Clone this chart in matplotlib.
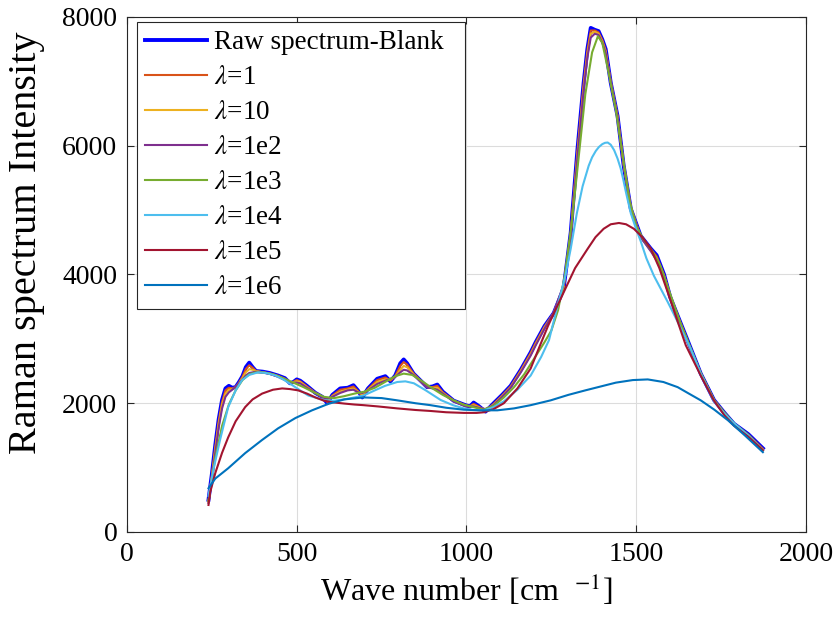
import numpy as np
import matplotlib
matplotlib.use("Agg")
import matplotlib.pyplot as plt  # noqa: E402

plt.rcParams["font.family"] = ["Liberation Serif", "DejaVu Serif"]
plt.rcParams["mathtext.fontset"] = "stix"

# raw spectrum and the three weakest smoothings share one grid
WN = [240, 250, 260, 270, 280, 290, 300, 310, 320, 330, 340, 350, 360, 370,
      380, 400, 420, 445, 465, 480, 490, 500, 510, 530, 555, 575, 590, 605,
      628, 650, 667, 680, 693, 710, 737, 761, 776, 790, 805, 815, 825, 844,
      865, 884, 900, 914, 930, 962, 997, 1010, 1021, 1035, 1056, 1080, 1105,
      1130, 1160, 1189, 1204, 1230, 1257, 1286, 1307, 1327, 1345, 1356, 1366,
      1378, 1389, 1400, 1410, 1425, 1445, 1463, 1484, 1513, 1543, 1560, 1582,
      1600, 1622, 1651, 1690, 1729, 1760, 1788, 1830, 1873]
RAW = [500, 900, 1350, 1750, 2050, 2230, 2270, 2240, 2250, 2330, 2420, 2560,
       2630, 2560, 2500, 2490, 2470, 2430, 2390, 2310, 2330, 2370, 2350, 2270,
       2160, 2100, 2000, 2130, 2230, 2240, 2280, 2200, 2090, 2230, 2380, 2420,
       2340, 2430, 2620, 2680, 2620, 2460, 2350, 2250, 2260, 2290, 2180, 2040,
       1970, 1950, 2010, 1960, 1870, 2000, 2130, 2270, 2520, 2790, 2950, 3200,
       3400, 3780, 4650, 5950, 6975, 7500, 7830, 7800, 7780, 7650, 7500, 6975,
       6460, 5690, 5020, 4600, 4400, 4300, 4000, 3650, 3360, 2980, 2460, 2050,
       1850, 1680, 1520, 1300]
L1 = [480, 880, 1320, 1720, 2020, 2200, 2240, 2230, 2250, 2320, 2410, 2530,
      2590, 2550, 2500, 2480, 2465, 2425, 2380, 2310, 2330, 2360, 2340, 2260,
      2160, 2100, 2020, 2120, 2210, 2230, 2260, 2190, 2110, 2220, 2360, 2400,
      2350, 2420, 2580, 2640, 2600, 2460, 2350, 2250, 2250, 2270, 2170, 2040,
      1970, 1950, 1990, 1950, 1880, 1990, 2120, 2260, 2510, 2780, 2940, 3190,
      3400, 3790, 4640, 5920, 6950, 7470, 7790, 7790, 7760, 7640, 7480, 6980,
      6460, 5700, 5030, 4590, 4390, 4280, 3990, 3660, 3360, 2970, 2460, 2050,
      1850, 1680, 1510, 1290]
L10 = [470, 860, 1280, 1680, 1980, 2150, 2210, 2220, 2250, 2310, 2390, 2480,
       2530, 2520, 2500, 2480, 2460, 2420, 2370, 2320, 2330, 2340, 2330, 2250,
       2160, 2100, 2050, 2110, 2180, 2210, 2230, 2180, 2140, 2210, 2330, 2370,
       2370, 2410, 2520, 2580, 2560, 2450, 2340, 2250, 2240, 2240, 2160, 2040,
       1960, 1955, 1970, 1940, 1900, 1980, 2110, 2250, 2500, 2760, 2920, 3180,
       3400, 3810, 4620, 5880, 6900, 7420, 7740, 7770, 7740, 7620, 7460, 6990,
       6450, 5710, 5040, 4580, 4380, 4250, 3980, 3670, 3350, 2960, 2460, 2050,
       1840, 1680, 1500, 1280]
L1E2 = [450, 820, 1230, 1620, 1920, 2100, 2170, 2210, 2260, 2310, 2370, 2430,
        2470, 2480, 2490, 2480, 2460, 2410, 2360, 2320, 2320, 2320, 2310, 2240,
        2160, 2090, 2070, 2100, 2160, 2200, 2210, 2170, 2160, 2200, 2300, 2350,
        2380, 2410, 2480, 2520, 2510, 2440, 2340, 2250, 2230, 2210, 2150, 2030,
        1950, 1950, 1950, 1930, 1910, 1970, 2100, 2240, 2480, 2740, 2900, 3160,
        3410, 3840, 4600, 5830, 6850, 7370, 7680, 7740, 7720, 7600, 7440, 7000,
        6440, 5720, 5050, 4580, 4360, 4220, 3970, 3680, 3340, 2950, 2460, 2050,
        1840, 1680, 1490, 1270]

WN_1E3 = [240, 260, 280, 300, 320, 340, 360, 380, 400, 430, 460, 490, 520,
          550, 580, 610, 640, 670, 700, 730, 760, 790, 815, 840, 870, 900,
          930, 960, 990, 1020, 1050, 1080, 1110, 1140, 1170, 1200, 1230, 1250,
          1270, 1290, 1310, 1330, 1350, 1370, 1387, 1400, 1420, 1440, 1460,
          1480, 1500, 1520, 1545, 1570, 1600, 1630, 1660, 1690, 1730, 1760,
          1790, 1830, 1873]
L1E3 = [480, 1150, 1650, 1980, 2200, 2360, 2450, 2480, 2480, 2450, 2390, 2320,
        2250, 2170, 2100, 2080, 2110, 2150, 2180, 2240, 2330, 2420, 2460, 2440,
        2340, 2230, 2130, 2050, 1980, 1940, 1900, 1960, 2090, 2250, 2450, 2700,
        2950, 3130, 3450, 4000, 4800, 5800, 6800, 7450, 7700, 7600, 7100, 6550,
        5850, 5150, 4750, 4560, 4380, 4150, 3700, 3250, 2860, 2470, 2040, 1850,
        1680, 1510, 1270]

WN_1E4 = [240, 255, 274, 298, 320, 339, 360, 386, 410, 437, 460, 487, 510,
          534, 560, 584, 610, 640, 670, 697, 730, 760, 796, 820, 845, 880, 924,
          960, 992, 1020, 1051, 1080, 1110, 1150, 1189, 1220, 1243, 1270, 1290,
          1307, 1325, 1342, 1360, 1370, 1381, 1390, 1400, 1408, 1416, 1425,
          1435, 1445, 1454, 1462, 1470, 1484, 1500, 1513, 1530, 1552, 1572,
          1593, 1612, 1631, 1660, 1690, 1729, 1760, 1788, 1830, 1873]
L1E4 = [560, 980, 1430, 1940, 2200, 2360, 2440, 2480, 2470, 2430, 2370, 2280,
        2200, 2120, 2080, 2045, 2040, 2060, 2090, 2120, 2200, 2270, 2330, 2340,
        2310, 2200, 2050, 1970, 1920, 1895, 1890, 1940, 2030, 2210, 2430, 2720,
        2980, 3550, 3950, 4400, 4950, 5370, 5690, 5820, 5920, 5980, 6025, 6045,
        6050, 6015, 5930, 5800, 5650, 5470, 5270, 4950, 4700, 4520, 4250, 3980,
        3780, 3570, 3370, 3170, 2850, 2460, 2030, 1840, 1690, 1500, 1270]

WN_1E5 = [240, 245, 260, 280, 298, 320, 348, 370, 398, 430, 457, 480, 504,
          530, 555, 580, 605, 640, 670, 697, 740, 796, 850, 894, 940, 992,
          1030, 1051, 1080, 1110, 1150, 1189, 1209, 1240, 1286, 1320, 1357,
          1380, 1404, 1425, 1449, 1470, 1493, 1518, 1543, 1568, 1593, 1620,
          1646, 1690, 1729, 1760, 1788, 1830, 1873]
L1E5 = [420, 620, 915, 1230, 1470, 1720, 1940, 2060, 2150, 2210, 2230, 2220,
        2200, 2150, 2090, 2040, 2015, 1995, 1980, 1970, 1950, 1920, 1895, 1880,
        1860, 1850, 1850, 1860, 1910, 2000, 2230, 2540, 2800, 3200, 3720, 4100,
        4400, 4580, 4710, 4780, 4800, 4780, 4710, 4580, 4400, 4100, 3720, 3300,
        2900, 2430, 2040, 1810, 1650, 1480, 1270]

WN_1E6 = [240, 260, 298, 348, 398, 445, 496, 545, 593, 640, 697, 750, 796, 850,
          894, 940, 992, 1040, 1091, 1140, 1189, 1248, 1300, 1350, 1395, 1440,
          1490, 1534, 1580, 1622, 1655, 1690, 1730, 1770, 1820, 1873]
L1E6 = [680, 830, 990, 1225, 1430, 1610, 1770, 1890, 1990, 2060, 2090, 2080,
        2045, 2000, 1970, 1930, 1900, 1890, 1890, 1920, 1970, 2045, 2130, 2200,
        2260, 2320, 2360, 2370, 2330, 2250, 2150, 2045, 1900, 1736, 1500, 1240]

SERIES = [
    (WN, L1, r"$\lambda$=1", "#D95319"),
    (WN, L10, r"$\lambda$=10", "#EDB120"),
    (WN, L1E2, r"$\lambda$=1e2", "#7E2F8E"),
    (WN_1E3, L1E3, r"$\lambda$=1e3", "#77AC30"),
    (WN_1E4, L1E4, r"$\lambda$=1e4", "#4DBEEE"),
    (WN_1E5, L1E5, r"$\lambda$=1e5", "#A2142F"),
    (WN_1E6, L1E6, r"$\lambda$=1e6", "#0072BD"),
]

fig = plt.figure(figsize=(8.34, 6.31), dpi=100)
ax = fig.add_axes([0.1523, 0.1569, 0.8141, 0.8162])

# trailing blanks widen the box like the MATLAB legend does
ax.plot(WN, RAW, color=(0, 0, 1), lw=2.8, label="Raw spectrum-Blank  ")
for x, y, lab, col in SERIES:
    ax.plot(np.array(x), np.array(y), color=col, lw=1.5, label=lab)

ax.set_xlim(0, 2000)
ax.set_ylim(0, 8000)
ax.set_xticks([0, 500, 1000, 1500, 2000])
ax.set_yticks([0, 2000, 4000, 6000, 8000])
ax.grid(True, color="#dcdcdc", lw=0.8)
ax.set_axisbelow(True)
for s in ax.spines.values():
    s.set_color("#262626")
    s.set_linewidth(0.8)
ax.tick_params(direction="in", top=True, right=True, length=5, width=0.8,
               colors="#262626", labelcolor="black", labelsize=20, pad=7)

ax.set_xlabel(r"Wave number [cm  $^{-1}$]", fontsize=23, labelpad=4)
ax.set_ylabel("Raman spectrum Intensity", fontsize=29)
ax.yaxis.set_label_coords(-0.121, 0.561)

leg = ax.legend(loc="upper left", bbox_to_anchor=(0.0147, 0.99),
                borderaxespad=0, fontsize=19.5, handlelength=2.3,
                handletextpad=0.25, labelspacing=0.37, borderpad=0.3,
                fancybox=False, framealpha=1, edgecolor="#262626")
leg.get_frame().set_linewidth(0.8)

fig.savefig("out.png", dpi=100)
